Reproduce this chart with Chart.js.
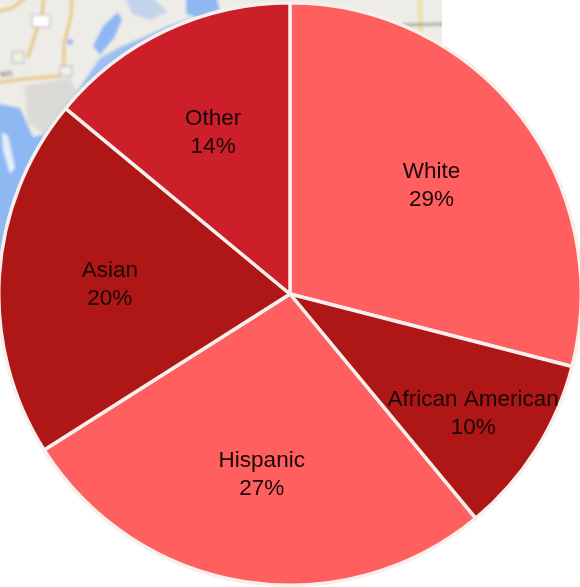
<!DOCTYPE html>
<html>
<head>
<meta charset="utf-8">
<title>Population by race</title>
<script src="https://cdn.jsdelivr.net/npm/chart.js@4"></script>
<style>
    html, body { margin: 0; padding: 0; background: #fff; overflow: hidden; }
    #wrap { position: relative; width: 580px; height: 587px; overflow: hidden; }
    #map { position: absolute; left: 0; top: 0; }
    #chartBox { position: absolute; left: -3px; top: 1px; width: 586px; height: 586px; }
</style>
</head>
<body>
<div id="wrap">
    <!-- blurry map screenshot that sits behind the pie -->
    <svg id="map" width="442" height="290" viewBox="0 0 442 290">
        <defs>
            <filter id="soft" x="-5%" y="-5%" width="110%" height="110%"><feGaussianBlur stdDeviation="1.6"></feGaussianBlur></filter>
            <clipPath id="mapEdge"><rect width="442" height="290"></rect></clipPath>
        </defs>
        <g clip-path="url(#mapEdge)">
        <g filter="url(#soft)">
            <rect x="-10" y="-10" width="462" height="310" fill="#eeece7"></rect>
            <path d="M24 86 L70 78 L82 100 L45 134 L28 124 Z" fill="#dcdad7"></path>
            <path d="M-5 103 L20 108 L33 137 L44 134 L70 100 L30 290 L-5 290 Z" fill="#8db8f2"></path>
            <path d="M2 132 L8 136 L15 168 L10 174 L3 150 Z" fill="#e6eff9"></path>
            <path d="M72 100 L86 78 L100 58 L122 46 L146 36 L168 26 L198 16 L220 40 L100 120 Z" fill="#9dc0f2"></path>
            <path d="M93 46 L103 26 L118 12 L122 20 L114 38 L100 55 Z" fill="#8db8f2"></path>
            <path d="M124 -4 L150 -4 L168 12 L150 20 L132 14 Z" fill="#c3d4ea"></path>
            <path d="M186 -4 L216 -4 L220 10 L200 18 L186 14 Z" fill="#8db8f2"></path>
            <circle cx="70" cy="42" r="3" fill="#8db8f2"></circle>
            <path d="M-4 12 L12 8 L26 -2 M-4 83 L24 79 L60 76 M64 72 L64 44 L71 16 L72 -4 M44 -4 L42 14 L34 38 L28 58" fill="none" stroke="#e6c677" stroke-width="3"></path>
            <path d="M420 -4 L421 60" fill="none" stroke="#ece3a8" stroke-width="5"></path>
            <path d="M402 25 L450 24" fill="none" stroke="#a9a79f" stroke-width="3"></path>
            <rect x="32" y="15" width="18" height="12" fill="#fff" stroke="#aaa"></rect>
            <rect x="12" y="52" width="12" height="11" fill="#eef3df" stroke="#aaa"></rect>
            <rect x="60" y="66" width="12" height="10" fill="#f2f0ea" stroke="#aaa"></rect>
            <text x="0" y="77" font-family="Liberation Sans" font-size="10" fill="#555">wn</text>
        </g>
        </g>
    </svg>
    <div id="chartBox"><canvas id="raceChart"></canvas></div>
</div>
<script>
const categories = ["White", "African American", "Hispanic", "Asian", "Other"];
const shares = [29, 10, 27, 20, 14];
const sliceColors = ["#ff5f5f", "#ae1715", "#ff5f5f", "#ae1715", "#cc1f2a"];
// how far out each label sits, as a fraction of the pie radius
const labelReach = [0.615, 0.745, 0.62, 0.62, 0.62];
const labelNudgeY = [2, 4, 2, 2, 2];

const sliceLabels = {
    id: "sliceLabels",
    afterDatasetsDraw(chart) {
        const { ctx } = chart;
        chart.getDatasetMeta(0).data.forEach((arc, index) => {
            const mid = (arc.startAngle + arc.endAngle) / 2;
            const dist = arc.outerRadius * labelReach[index];
            const x = arc.x + Math.cos(mid) * dist;
            const y = arc.y + Math.sin(mid) * dist + labelNudgeY[index];
            ctx.save();
            ctx.fillStyle = "#1a0606";
            ctx.font = '22.5px "Liberation Sans"';
            ctx.textAlign = "center";
            ctx.textBaseline = "middle";
            ctx.fillText(categories[index], x, y - 14);
            ctx.fillText(shares[index] + "%", x, y + 14);
            ctx.restore();
        });
    },
};

new Chart(document.getElementById("raceChart"), {
    type: "pie",
    data: {
        labels: categories,
        datasets: [
            {
                data: shares,
                backgroundColor: sliceColors,
                borderColor: "#f6efec",
                borderWidth: 3.5,
            },
        ],
    },
    options: {
        responsive: true,
        maintainAspectRatio: false,
        animation: false,
        layout: { padding: 0 },
        plugins: {
            legend: { display: false },
            tooltip: { enabled: false },
        },
    },
    plugins: [sliceLabels],
});
</script>
</body>
</html>
